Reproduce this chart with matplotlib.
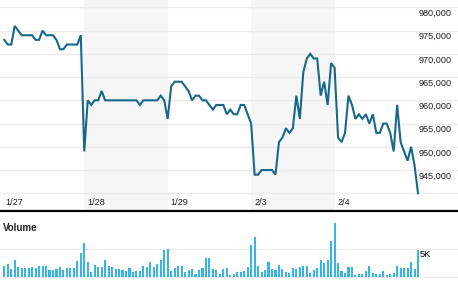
import matplotlib
matplotlib.use('Agg')
import matplotlib.pyplot as plt
import matplotlib.transforms as mtransforms
import numpy as np

plt.rcParams['font.family'] = ['Liberation Sans', 'DejaVu Sans']

# price per interval (5 sessions)
price = [973, 972, 972, 976, 975, 974, 974, 974, 974, 973, 973, 975, 974, 974, 974,
         973, 971, 971, 972, 972, 972, 972, 974,
         949, 960, 959, 960, 960, 962, 960, 960, 960, 960, 960, 960, 960, 960, 960, 960,
         959, 960, 960, 960, 960, 960, 961, 960, 956,
         963, 964, 964, 964, 963, 962, 960, 961, 961, 960, 960, 959, 958, 959, 959,
         959, 957, 958, 957, 957, 959, 959, 957, 955,
         944, 944, 945, 945, 945, 945, 944, 951, 952, 954, 953, 954, 961, 956, 966,
         969, 970, 969, 969, 961, 964, 959, 968, 967,
         952, 951, 953, 961, 959, 956, 957, 956, 957, 955, 957, 953, 953, 955, 955,
         953, 949, 959, 951, 949, 947, 950, 946, 940]
price = [p * 1000 for p in price]

volume = [2.0, 2.35, 1.45, 3.07, 1.8, 1.63, 1.63, 1.63, 1.8, 1.63, 2.0, 2.0, 2.0, 1.27,
          1.35, 1.5, 1.8, 1.27, 1.63, 1.63, 1.63, 2.9, 4.35, 6.15, 2.7, 0.9, 2.17, 1.8,
          1.8, 3.07, 2.0, 1.8, 1.45, 1.45, 1.27, 1.08, 1.63, 0.9, 1.08, 1.08, 2.0, 1.8,
          2.7, 1.8, 2.35, 3.07, 4.88, 5.06, 1.08, 1.63, 2.0, 2.0, 0.9, 1.27, 1.45, 0.54,
          1.27, 1.63, 3.43, 3.43, 1.45, 1.27, 0.54, 1.45, 1.63, 0.36, 0.54, 0.9, 0.9,
          1.08, 1.8, 5.8, 7.25, 2.0, 0.9, 1.27, 2.7, 1.45, 1.27, 2.17, 1.45, 0.9, 0.72,
          1.63, 1.45, 1.8, 2.0, 2.0, 0.72, 1.27, 1.63, 3.07, 2.53, 3.07, 6.5, 9.8, 2.53,
          1.08, 0.72, 1.8, 1.8, 0.36, 0.54, 0.54, 1.08, 2.0, 0.72, 0.54, 0.54, 1.08,
          0.36, 0.54, 0.72, 2.0, 1.63, 1.63, 1.63, 2.7, 1.45, 4.9]
volume = [v * 1000 for v in volume]

day_labels = ['1/27', '1/28', '1/29', '2/3', '2/4']
day_starts = [-0.7, 23, 47, 71, 95]
price_ticks = [980000, 975000, 970000, 965000, 960000, 955000, 950000, 945000]

x = np.arange(len(price))
xlim = (-1.24, 130.5)

fig = plt.figure(figsize=(4.58, 2.92), dpi=100)
fig.patch.set_facecolor('white')

# --- price panel ---
ax = fig.add_axes([0, 81 / 292, 1, 211 / 292])
ax.set_xlim(*xlim)
ax.set_ylim(936190, 981580)
for s, e in [(day_starts[1], day_starts[2]), (day_starts[3], day_starts[4])]:
    ax.axvspan(s - 0.1, e + 0.2, color='#f6f6f6', lw=0, zorder=0)
for v in range(940000, 985000, 5000):
    ax.axhline(v, color='#ebebeb', lw=1, zorder=1)
ax.plot(x, price, color='#17688a', lw=1.5, zorder=3, solid_joinstyle='miter')

trans = mtransforms.blended_transform_factory(ax.transAxes, ax.transData)
for v in price_ticks:
    ax.text(452 / 458, v - 1330, f'{v:,}', transform=trans, ha='right', va='center',
            fontsize=6.6, color='#222222')

dtrans = mtransforms.blended_transform_factory(ax.transData, ax.transAxes)
for lab, s in zip(day_labels, day_starts):
    ax.text(s + 0.9, 0.039, lab, transform=dtrans, ha='left', va='center',
            fontsize=6.6, color='#222222')

for side in ['top', 'left', 'right']:
    ax.spines[side].set_visible(False)
ax.spines['bottom'].set_color('black')
ax.spines['bottom'].set_linewidth(1.6)
ax.set_xticks([])
ax.set_yticks([])

# --- volume panel ---
vax = fig.add_axes([0, 0, 1, 80 / 292])
vax.set_xlim(*xlim)
vax.set_ylim(-2708, 11733)
vax.axhline(0, color='#ebebeb', lw=1, zorder=1)
vax.axhline(5000, color='#ebebeb', lw=1, zorder=1)
widths = [0.6] * (len(volume) - 1) + [0.3]
vax.bar(x, volume, width=widths, color='#36b6e6', zorder=2)
vax.text(3 / 458, 0.804, 'Volume', transform=vax.transAxes, ha='left', va='center',
         fontsize=7, fontweight='bold', color='#222222')
vtrans = mtransforms.blended_transform_factory(vax.transAxes, vax.transData)
vax.text(419.5 / 458, 4150, '5K', transform=vtrans, ha='left', va='center',
         fontsize=6.6, color='black', zorder=3)
vax.axis('off')

fig.savefig('out.png', dpi=100, facecolor='white')
